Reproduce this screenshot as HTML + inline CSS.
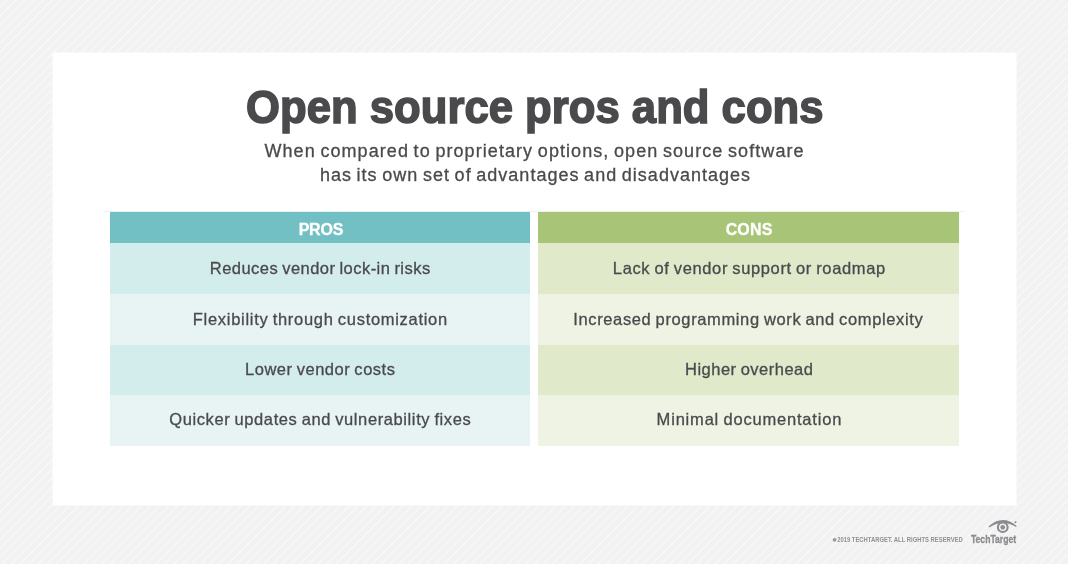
<!DOCTYPE html>
<html>
<head>
<meta charset="utf-8">
<style>
html,body{margin:0;padding:0;}
body{width:1068px;height:564px;overflow:hidden;position:relative;
  background-color:#f2f2f2;
  background-image:repeating-linear-gradient(135deg,#f2f2f2 0px,#f2f2f2 3.75px,#f9f9f9 4.87px,#f2f2f2 6px,#f2f2f2 6.3795px);
  font-family:"Liberation Sans",sans-serif;}
.card{position:absolute;left:52px;top:52px;width:965px;height:454px;background:#fff;border:1px solid #f9f9f9;box-sizing:border-box;}
.blk{position:absolute;}
.t{position:absolute;will-change:transform;text-align:center;white-space:nowrap;line-height:40px;height:40px;box-sizing:border-box;}
.ttl{font-weight:bold;color:#4a4a4d;-webkit-text-stroke:1.6px #4a4a4d;}
.sub{word-spacing:-1.4px;color:#4a4a4d;-webkit-text-stroke:0.3px #4a4a4d;}
.hd{font-weight:bold;color:#fff;-webkit-text-stroke:0.3px #fff;}
.row{word-spacing:-1px;color:#4a4a4d;-webkit-text-stroke:0.3px #4a4a4d;}
.cr{font-weight:bold;color:#909094;}
.tt{font-weight:bold;color:#8c8c90;-webkit-text-stroke:0.3px #8c8c90;}
</style>
</head>
<body>
<div class="card"></div>
<div class="blk" style="left:109.5px;top:212px;width:420.5px;height:31px;background:#72c0c4"></div>
<div class="blk" style="left:109.5px;top:243px;width:420.5px;height:51px;background:#d3ecec"></div>
<div class="blk" style="left:109.5px;top:294px;width:420.5px;height:51px;background:#e8f4f4"></div>
<div class="blk" style="left:109.5px;top:345px;width:420.5px;height:50px;background:#d3ecec"></div>
<div class="blk" style="left:109.5px;top:395px;width:420.5px;height:51px;background:#e8f4f4"></div>
<div class="blk" style="left:538.4px;top:212px;width:421px;height:31px;background:#a8c476"></div>
<div class="blk" style="left:538.4px;top:243px;width:421px;height:51px;background:#e0e9ca"></div>
<div class="blk" style="left:538.4px;top:294px;width:421px;height:51px;background:#eef3e3"></div>
<div class="blk" style="left:538.4px;top:345px;width:421px;height:50px;background:#e0e9ca"></div>
<div class="blk" style="left:538.4px;top:395px;width:421px;height:51px;background:#eef3e3"></div>
<div class="blk" style="left:104px;top:211px;width:427px;height:1px;background:#e6f3f4"></div>
<div class="blk" style="left:531px;top:211px;width:434px;height:1px;background:#eef4e6"></div>
<div class="t ttl" style="left:84.55px;top:87.01px;width:900px;font-size:47px;letter-spacing:0.000px;text-indent:0.000px;"><span style="display:inline-block;transform:scaleX(0.9290);transform-origin:50% 50%">Open source pros and cons</span></div>
<div class="t sub" style="left:84.20px;top:130.76px;width:900px;font-size:18px;letter-spacing:1.063px;text-indent:1.063px;">When compared to proprietary options, open source software</div>
<div class="t sub" style="left:84.50px;top:155.16px;width:900px;font-size:18px;letter-spacing:1.015px;text-indent:1.015px;">has its own set of advantages and disadvantages</div>
<div class="t hd" style="left:-129.40px;top:209.86px;width:900px;font-size:16px;letter-spacing:-0.200px;text-indent:-0.200px;">PROS</div>
<div class="t hd" style="left:298.95px;top:209.86px;width:900px;font-size:16px;letter-spacing:0.133px;text-indent:0.133px;">CONS</div>
<div class="t row" style="left:-130.30px;top:247.98px;width:900px;font-size:16.5px;letter-spacing:0.459px;text-indent:0.459px;">Reduces vendor lock-in risks</div>
<div class="t row" style="left:-130.40px;top:298.88px;width:900px;font-size:16.5px;letter-spacing:0.703px;text-indent:0.703px;">Flexibility through customization</div>
<div class="t row" style="left:-130.25px;top:349.08px;width:900px;font-size:16.5px;letter-spacing:0.524px;text-indent:0.524px;">Lower vendor costs</div>
<div class="t row" style="left:-130.00px;top:399.48px;width:900px;font-size:16.5px;letter-spacing:0.605px;text-indent:0.605px;">Quicker updates and vulnerability fixes</div>
<div class="t row" style="left:298.65px;top:248.18px;width:900px;font-size:16.5px;letter-spacing:0.641px;text-indent:0.641px;">Lack of vendor support or roadmap</div>
<div class="t row" style="left:297.75px;top:298.88px;width:900px;font-size:16.5px;letter-spacing:0.627px;text-indent:0.627px;">Increased programming work and complexity</div>
<div class="t row" style="left:298.50px;top:349.28px;width:900px;font-size:16.5px;letter-spacing:0.493px;text-indent:0.493px;">Higher overhead</div>
<div class="t row" style="left:299.35px;top:399.48px;width:900px;font-size:16.5px;letter-spacing:0.805px;text-indent:0.805px;">Minimal documentation</div>
<div class="t cr" style="left:450.40px;top:519.67px;width:900px;font-size:7px;letter-spacing:0.000px;text-indent:0.000px;"><span style="display:inline-block;transform:scaleX(0.8382);transform-origin:50% 50%">2019 TECHTARGET. ALL RIGHTS RESERVED</span></div>
<div class="t tt" style="left:543.70px;top:518.66px;width:900px;font-size:10.5px;letter-spacing:0.000px;text-indent:0.000px;"><span style="display:inline-block;transform:scaleX(0.8222);transform-origin:50% 50%">TechTarget</span></div>
<svg style="position:absolute;left:0;top:0" width="1068" height="564" viewBox="0 0 1068 564">
<path d="M988.7 526.3 Q1002.7 514.1 1016.6 525.9 L1016.1 527.0 Q1002.7 518.7 989.3 527.4 Z" fill="#8c8c90"/>
<circle cx="1002.75" cy="527.2" r="4.85" fill="none" stroke="#8c8c90" stroke-width="2.1"/>
<circle cx="1002.75" cy="527.3" r="2.35" fill="#8e8e92"/>
<circle cx="1015.5" cy="522.3" r="1.0" fill="#8c8c90"/>
<circle cx="834.6" cy="539.8" r="1.9" fill="#9a9a9e"/>
</svg>
</body>
</html>
